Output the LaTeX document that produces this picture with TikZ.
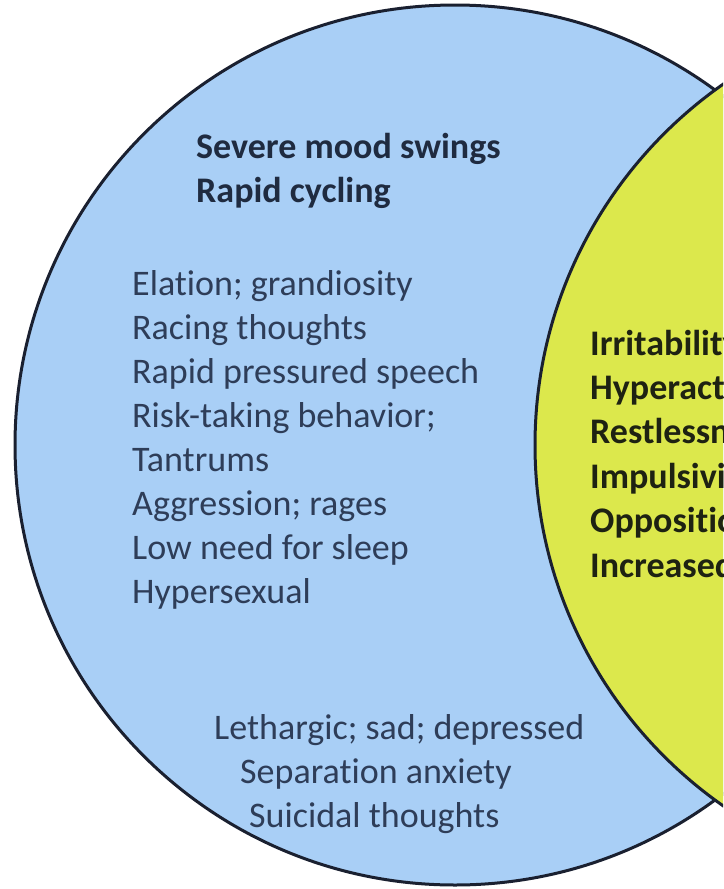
\documentclass[tikz,border=0pt]{standalone}
\usepackage{fontspec}
\setmainfont[Ligatures=NoCommon]{Carlito}
\definecolor{bluefill}{HTML}{A9CFF6}
\definecolor{yellowfill}{HTML}{DCE84C}
\definecolor{edgecol}{HTML}{1A2030}
\definecolor{bluetext}{HTML}{2E3D58}
\definecolor{bluebold}{HTML}{1F2B40}
\definecolor{yellowtext}{HTML}{1E2212}
\tikzset{
  ring/.style={draw=edgecol, line width=3pt},
  item/.style={inner sep=0pt, anchor=base west, font=\fontsize{36}{44}\selectfont},
  blueitem/.style={item, text=bluetext},
  bluehead/.style={item, text=bluebold, font=\fontsize{36}{44}\selectfont\bfseries},
  yellowitem/.style={item, text=yellowtext, font=\fontsize{36}{44}\selectfont\bfseries}
}
\begin{document}
\begin{tikzpicture}[x=1pt,y=-1pt]
\useasboundingbox (0,0) rectangle (723,889);
\fill[white] (0,0) rectangle (723,889);
\clip (0,0) rectangle (723,889);
\filldraw[ring, fill=bluefill] (455,445) circle [radius=440];
\filldraw[ring, fill=yellowfill] (975,445) circle [radius=440];
% bipolar heading
\node[bluehead] (h1) at (196,158) {Severe mood swings};
\node[bluehead] (h2) at (196,202) {Rapid cycling};
% manic symptoms
\node[blueitem] (b1) at (132,295) {Elation; grandiosity};
\node[blueitem] (b2) at (132,339) {Racing thoughts};
\node[blueitem] (b3) at (132,383) {Rapid pressured speech};
\node[blueitem] (b4) at (132,427) {Risk-taking behavior;};
\node[blueitem] (b5) at (132,471) {Tantrums};
\node[blueitem] (b6) at (132,515) {Aggression; rages};
\node[blueitem] (b7) at (132,559) {Low need for sleep};
\node[blueitem] (b8) at (132,603) {Hypersexual};
% depressive symptoms
\node[blueitem] (d1) at (214,739) {Lethargic; sad; depressed};
\node[blueitem] (d2) at (240,783) {Separation anxiety};
\node[blueitem] (d3) at (249,827) {Suicidal thoughts};
% shared symptoms (cut off at the right edge, as in the reference)
\node[yellowitem] (y1) at (590,355) {Irritability};
\node[yellowitem] (y2) at (590,399) {Hyperactivity};
\node[yellowitem] (y3) at (590,443) {Restlessness};
\node[yellowitem] (y4) at (590,488) {Impulsivity};
\node[yellowitem] (y5) at (590,532) {Oppositional};
\node[yellowitem] (y6) at (590,577) {Increased};
\end{tikzpicture}
\end{document}
